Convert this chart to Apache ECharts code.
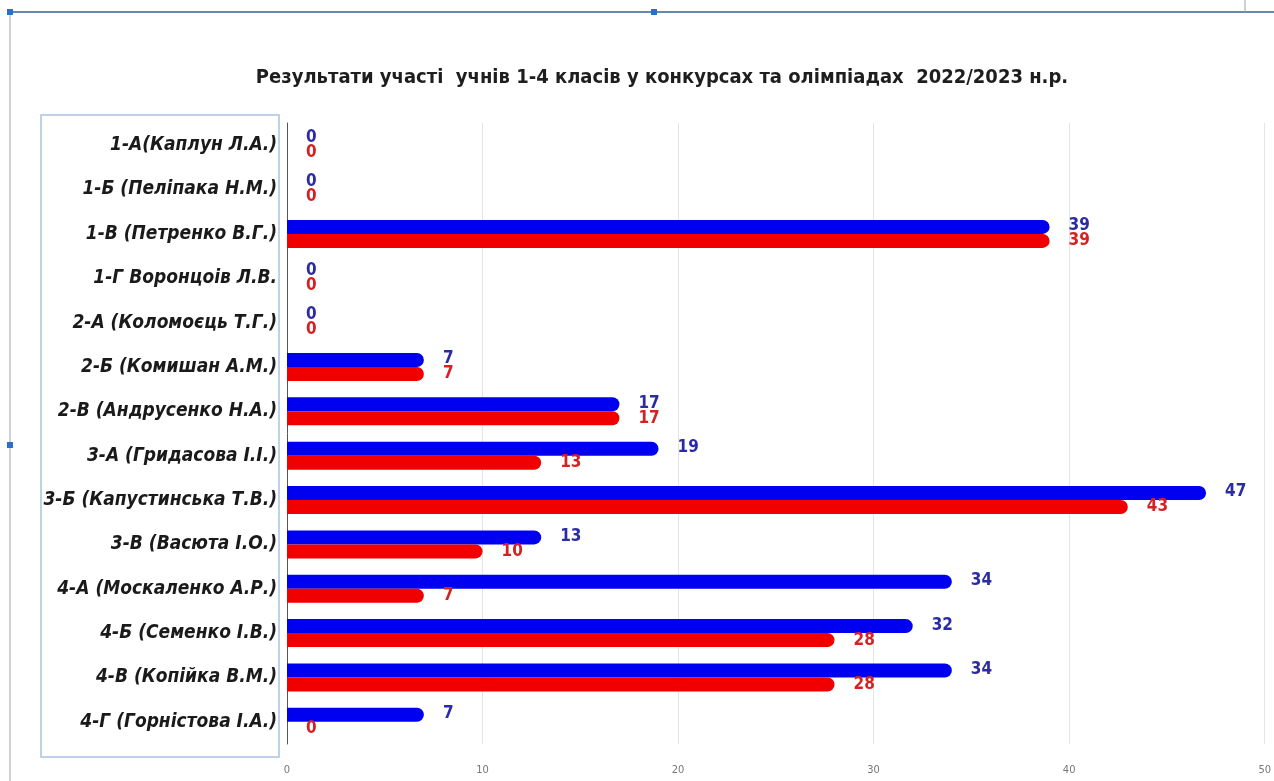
<!DOCTYPE html>
<html>
<head>
<meta charset="utf-8">
<title>Результати участі учнів 1-4 класів</title>
<script src="https://cdn.jsdelivr.net/npm/echarts@6/dist/echarts.min.js"></script>
<style>
    html, body { margin: 0; padding: 0; background: #fff; }
    #chart { width: 1274px; height: 781px; }
</style>
</head>
<body>
<div id="chart"></div>
<script>
    // класи та вчителі
    var classes = [
        '1-А(Каплун Л.А.)',
        '1-Б (Пеліпака Н.М.)',
        '1-В (Петренко В.Г.)',
        '1-Г Воронцоів Л.В.',
        '2-А (Коломоєць Т.Г.)',
        '2-Б (Комишан А.М.)',
        '2-В (Андрусенко Н.А.)',
        '3-А (Гридасова І.І.)',
        '3-Б (Капустинська Т.В.)',
        '3-В (Васюта І.О.)',
        '4-А (Москаленко А.Р.)',
        '4-Б (Семенко І.В.)',
        '4-В (Копійка В.М.)',
        '4-Г (Горністова І.А.)'
    ];
    var blueValues = [0, 0, 39, 0, 0, 7, 17, 19, 47, 13, 34, 32, 34, 7];
    var redValues = [0, 0, 39, 0, 0, 7, 17, 13, 43, 10, 7, 28, 28, 0];
    var xTicks = [0, 10, 20, 30, 40, 50];

    var FONT = '"DejaVu Sans Condensed", "Liberation Sans", sans-serif';

    var chart = echarts.init(document.getElementById('chart'));
    var option = {
        animation: false,
        title: {
            text: 'Результати участі  учнів 1-4 класів у конкурсах та олімпіадах  2022/2023 н.р.',
            left: 657,
            textAlign: 'center',
            top: 63,
            textStyle: {
                fontFamily: FONT,
                fontSize: 20,
                fontWeight: 'bold',
                color: '#1e1e1e'
            }
        },
        grid: {
            left: 287,
            right: 8,
            top: 123,
            bottom: 37
        },
        xAxis: {
            type: 'value',
            min: xTicks[0],
            max: xTicks[xTicks.length - 1],
            interval: 10,
            axisLine: {show: false},
            axisTick: {show: false},
            splitLine: {lineStyle: {color: '#e4e4e4', width: 1}},
            axisLabel: {
                margin: 21,
                color: '#777',
                fontSize: 11,
                fontFamily: FONT
            }
        },
        yAxis: {
            type: 'category',
            inverse: true,
            data: classes,
            axisLine: {show: true, lineStyle: {color: '#555', width: 1}},
            axisTick: {show: false},
            axisLabel: {
                margin: 10,
                color: '#1a1a1a',
                fontSize: 19,
                fontStyle: 'italic',
                fontWeight: 'bold',
                fontFamily: FONT
            }
        },
        series: [
            {
                name: 'blue',
                type: 'bar',
                data: blueValues,
                barWidth: 14,
                barGap: '0%',
                itemStyle: {color: '#0000f0', borderRadius: [0, 7, 7, 0]},
                label: {
                    show: true,
                    position: 'right',
                    distance: 19,
                    offset: [0, -1],
                    color: '#2b2ba6',
                    fontSize: 17,
                    fontWeight: 'bold',
                    fontFamily: FONT
                }
            },
            {
                name: 'red',
                type: 'bar',
                data: redValues,
                barWidth: 14,
                itemStyle: {color: '#f00000', borderRadius: [0, 7, 7, 0]},
                label: {
                    show: true,
                    position: 'right',
                    distance: 19,
                    offset: [0, 0],
                    color: '#d42222',
                    fontSize: 17,
                    fontWeight: 'bold',
                    fontFamily: FONT
                }
            }
        ],
        graphic: [
            // рамка навколо підписів
            {
                type: 'rect',
                shape: {x: 41, y: 115, width: 238, height: 642},
                style: {fill: 'none', stroke: '#a9c4e0', lineWidth: 1.5}
            },
            // верхня лінія об'єкта
            {
                type: 'line',
                shape: {x1: 10, y1: 12, x2: 1274, y2: 12},
                style: {stroke: '#6a86a8', lineWidth: 2}
            },
            {
                type: 'line',
                shape: {x1: 10, y1: 12, x2: 10, y2: 781},
                style: {stroke: '#9aa4b0', lineWidth: 1}
            },
            {
                type: 'line',
                shape: {x1: 1245, y1: 0, x2: 1245, y2: 12},
                style: {stroke: '#9aa4b0', lineWidth: 1}
            },
            {
                type: 'rect',
                shape: {x: 651, y: 9, width: 6, height: 6},
                style: {fill: '#2a6fd0'}
            },
            {
                type: 'rect',
                shape: {x: 7, y: 9, width: 6, height: 6},
                style: {fill: '#2a6fd0'}
            },
            {
                type: 'rect',
                shape: {x: 7, y: 442, width: 6, height: 6},
                style: {fill: '#2a6fd0'}
            }
        ]
    };
    chart.setOption(option);
</script>
</body>
</html>
